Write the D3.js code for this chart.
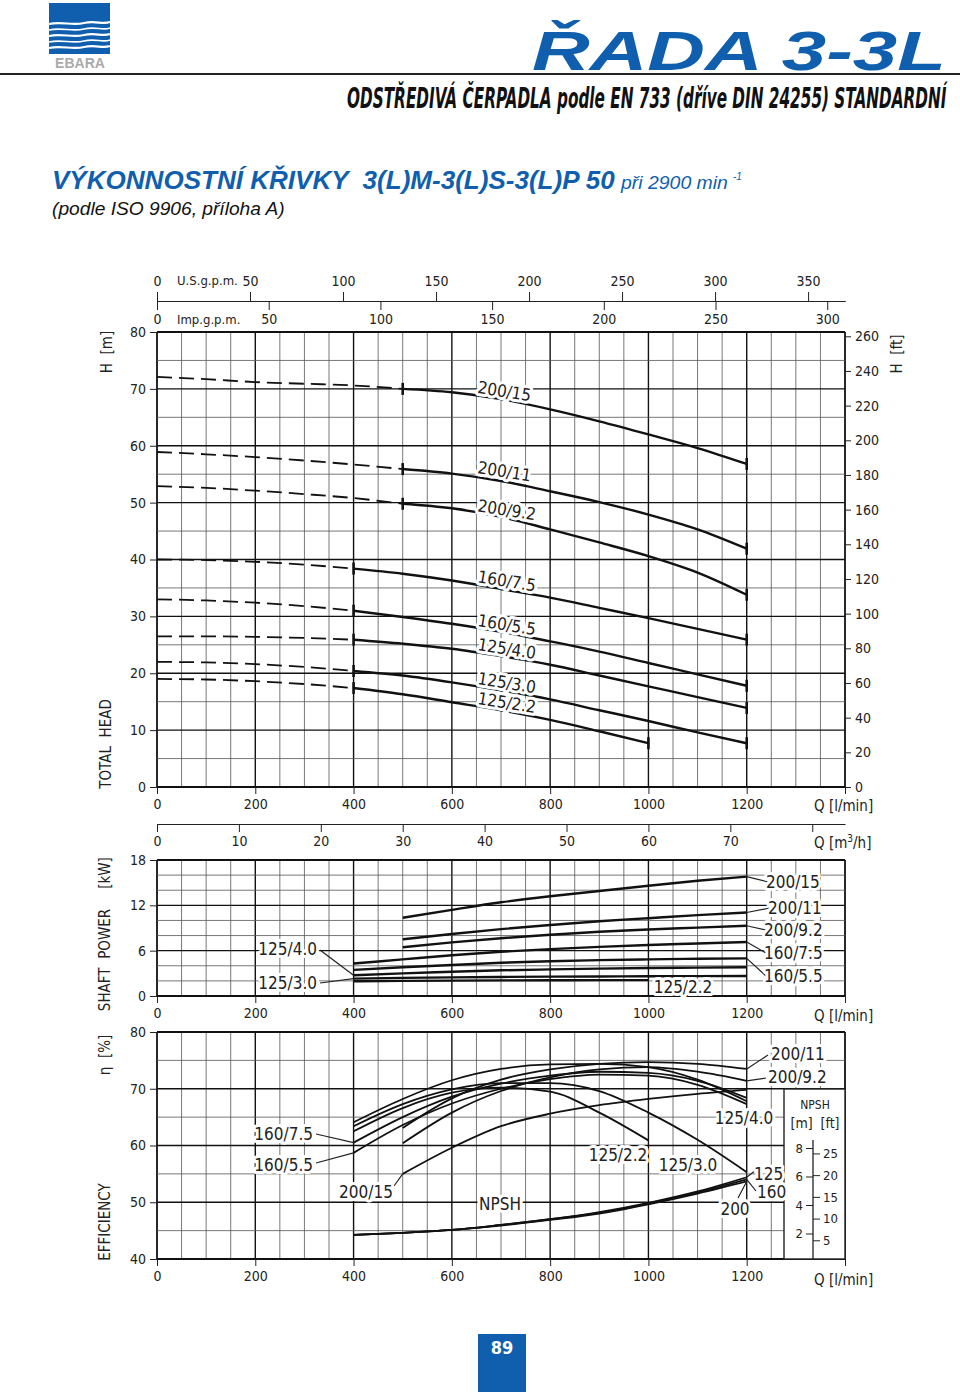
<!DOCTYPE html>
<html><head><meta charset="utf-8">
<script src="https://cdn.jsdelivr.net/npm/d3@7"></script>
<style>
body{margin:0;background:#fff}
svg text{font-family:"Liberation Sans Narrow","DejaVu Sans Condensed","DejaVu Sans",sans-serif;font-stretch:condensed;fill:#222}
.ax text{font-size:14px}
.ax line,.ax path{stroke:#222}
.lab{font-size:17px;paint-order:stroke;stroke:#fff;stroke-width:6px;stroke-linejoin:round}
.ttl{font-size:15px}
</style></head><body><script>
// --- data (read from the catalogue sheet) ---
var models = ["200/15","200/11","200/9.2","160/7.5","160/5.5","125/4.0","125/3.0","125/2.2"];
var solidFrom = [500,500,500,400,400,400,400,400];

// total head H [m] vs Q [l/min]
var qHead = [0,100,200,300,400,500,600,700,800,900,1000,1100,1200];
var head_200_15  = [72.1,71.7,71.2,70.9,70.6,70.0,69.4,68.2,66.4,64.3,62.0,59.6,56.8];
var head_200_11  = [58.9,58.5,58.0,57.4,56.7,55.9,55.1,53.8,52.0,50.1,47.9,45.3,41.9];
var head_200_9_2 = [52.9,52.6,52.1,51.5,50.8,49.8,49.0,47.5,45.3,43.0,40.6,37.7,33.8];
var head_160_7_5 = [40.0,39.9,39.6,39.1,38.4,37.5,36.3,34.8,33.3,31.5,29.7,27.8,25.9];
var head_160_5_5 = [33.0,32.8,32.4,31.8,31.0,29.9,28.7,27.3,25.6,23.8,21.8,19.8,17.8];
var head_125_4_0 = [26.5,26.5,26.4,26.2,25.9,25.2,24.3,23.0,21.5,19.6,17.7,15.8,13.9];
var head_125_3_0 = [22.0,21.9,21.6,21.1,20.4,19.6,18.4,17.0,15.4,13.5,11.6,9.6,7.7];
var head_125_2_2 = [19.0,18.9,18.6,18.1,17.4,16.3,14.9,13.5,11.8,9.8,7.7];
var heads = [head_200_15,head_200_11,head_200_9_2,head_160_7_5,head_160_5_5,head_125_4_0,head_125_3_0,head_125_2_2];

// shaft power [kW]
var qCurve = [400,500,600,700,800,900,1000,1100,1200];
var pow_200_15  = [null,10.35,11.4,12.4,13.2,13.9,14.6,15.25,15.8];
var pow_200_11  = [null,7.5,8.2,8.85,9.4,9.9,10.3,10.7,11.05];
var pow_200_9_2 = [null,6.45,7.1,7.65,8.1,8.5,8.8,9.05,9.3];
var pow_160_7_5 = [4.3,4.85,5.4,5.85,6.2,6.5,6.75,6.95,7.15];
var pow_160_5_5 = [3.45,3.8,4.1,4.4,4.6,4.75,4.85,4.93,4.98];
var pow_125_4_0 = [2.75,3.0,3.2,3.4,3.52,3.62,3.7,3.76,3.8];
var pow_125_3_0 = [2.3,2.4,2.47,2.52,2.56,2.59,2.61,2.63,2.65];
var pow_125_2_2 = [1.95,2.0,2.04,2.07,2.09,2.1,2.1,null,null];
var powers = [pow_200_15,pow_200_11,pow_200_9_2,pow_160_7_5,pow_160_5_5,pow_125_4_0,pow_125_3_0,pow_125_2_2];

// efficiency [%]
var eff_200_15  = [null,55.0,59.6,63.4,65.6,67.1,68.2,69.1,69.8];
var eff_200_11  = [null,63.1,68.3,71.6,73.4,74.4,74.7,74.4,73.5];
var eff_200_9_2 = [null,60.4,65.8,69.6,72.0,73.4,73.8,73.0,71.4];
var eff_160_7_5 = [60.5,65.0,68.6,70.9,72.3,73.0,72.8,71.4,68.4];
var eff_160_5_5 = [58.7,63.6,67.4,70.0,71.7,72.5,72.3,70.7,67.3];
var eff_125_4_0 = [64.1,68.2,71.5,73.5,74.3,74.4,73.8,71.6,67.8];
var eff_125_3_0 = [63.4,67.3,69.9,71.0,71.0,69.6,65.8,61.0,55.3];
var eff_125_2_2 = [62.5,66.6,69.3,70.2,69.5,65.8,60.9,null,null];
var effs = [eff_200_15,eff_200_11,eff_200_9_2,eff_160_7_5,eff_160_5_5,eff_125_4_0,eff_125_3_0,eff_125_2_2];

// NPSH [m] for impeller sizes 125 / 160 / 200
var npshSizes = ["125","160","200"];
var npsh_125 = [1.9,2.05,2.25,2.6,3.0,3.5,4.15,4.95,5.95];
var npsh_160 = [1.9,2.05,2.25,2.6,3.0,3.45,4.1,4.88,5.8];
var npsh_200 = [1.9,2.05,2.25,2.55,2.95,3.4,4.05,4.8,5.65];

// --- page ---
var blue = "#0f5fae";
var svg = d3.select("body").append("svg").attr("width",960).attr("height",1392);

// squeeze a text horizontally so it spans exactly w pixels (anchor start)
function fit(t, px, py, w){
  var len = t.node().getComputedTextLength();
  t.attr("transform","translate("+px+","+py+") scale("+(w/len)+",1)");
  return t;
}

// logo
var logo = svg.append("g");
logo.append("rect").attr("x",49).attr("y",3).attr("width",61).attr("height",51).attr("fill",blue);
[24,30,36,42,48].forEach(function(yy,i){
  logo.append("path")
    .attr("d","M49,"+yy+" C62,"+(yy-3)+" 72,"+(yy+2)+" 84,"+(yy-1)+" S102,"+(yy+1)+" 110,"+(yy-2))
    .attr("fill","none").attr("stroke","#fff").attr("stroke-width",i%2?1.6:2.2);
});
logo.append("text").attr("x",80).attr("y",68).attr("text-anchor","middle")
  .style("font-family","Liberation Sans, sans-serif").style("font-weight","bold")
  .style("font-size","14px").style("fill","#aaa").text("EBARA");

fit(svg.append("text")
  .style("font-family","Liberation Sans, sans-serif").style("font-stretch","normal")
  .style("font-weight","bold").style("font-style","italic").style("font-size","56px")
  .style("fill",blue).text("ŘADA 3-3L"), 532, 70, 414);
svg.append("line").attr("x1",0).attr("x2",960).attr("y1",74).attr("y2",74)
  .attr("stroke","#222").attr("stroke-width",2);
fit(svg.append("text")
  .style("font-weight","bold").style("font-style","italic").style("font-size","29px")
  .style("fill","#111").text("ODSTŘEDIVÁ ČERPADLA podle EN 733 (dříve DIN 24255) STANDARDNÍ"), 347, 108, 600);

fit(svg.append("text")
  .style("font-family","Liberation Sans, sans-serif").style("font-stretch","normal")
  .style("font-weight","bold").style("font-style","italic").style("font-size","26px")
  .style("fill",blue).style("white-space","pre").text("VÝKONNOSTNÍ KŘIVKY  3(L)M-3(L)S-3(L)P 50"), 52, 189, 563);
fit(svg.append("text")
  .style("font-family","Liberation Sans, sans-serif").style("font-stretch","normal")
  .style("font-style","italic").style("font-size","18px").style("fill",blue).text("při 2900 min"), 621, 189, 107);
svg.append("text").attr("x",733).attr("y",180)
  .style("font-family","Liberation Sans, sans-serif").style("font-style","italic")
  .style("font-size","10px").style("fill",blue).text("-1");
fit(svg.append("text")
  .style("font-family","Liberation Sans, sans-serif").style("font-stretch","normal")
  .style("font-style","italic").style("font-size","19px").style("fill","#111").text("(podle ISO 9906, příloha A)"), 52, 215, 233);

// page number
svg.append("rect").attr("x",478).attr("y",1334).attr("width",48).attr("height",58).attr("fill",blue);
svg.append("text").attr("x",502).attr("y",1354).attr("text-anchor","middle")
  .style("font-weight","bold").style("font-size","18px").style("fill","#fff").text("89");

// --- scales ---
var x = d3.scaleLinear().domain([0,1400]).range([157,845]);
var yH = d3.scaleLinear().domain([0,80]).range([787,332]);
var yFt = d3.scaleLinear().domain([0,80/0.3048]).range([787,332]);
var yP = d3.scaleLinear().domain([0,18]).range([996,860]);
var yE = d3.scaleLinear().domain([40,80]).range([1259,1032]);
var yN = d3.scaleLinear().domain([0,8]).range([1262,1148]);
var xUS = d3.scaleLinear().domain([0,1400/3.78541]).range([157,845]);
var xImp = d3.scaleLinear().domain([0,1400/4.54609]).range([157,845]);
var xM3 = d3.scaleLinear().domain([0,84]).range([157,845]);

function grid(y, step, major){
  var g = svg.append("g");
  var d = y.domain();
  g.selectAll(".v").data(d3.range(0,1401,50)).enter().append("line")
    .attr("x1",x).attr("x2",x).attr("y1",y(d[0])).attr("y2",y(d[1]))
    .attr("stroke",function(q){return q%200===0?"#111":"#555";})
    .attr("stroke-width",function(q){return q===0||q===1400?1.8:(q%200===0?1.4:0.8);});
  g.selectAll(".h").data(d3.range(d[0],d[1]+0.001,step)).enter().append("line")
    .attr("x1",x(0)).attr("x2",x(1400)).attr("y1",y).attr("y2",y)
    .attr("stroke",function(v){return Math.abs(v%major)<1e-6?"#111":"#555";})
    .attr("stroke-width",function(v){return v===d[0]||v===d[1]?1.8:(Math.abs(v%major)<1e-6?1.3:0.8);});
}
function ax(gen, tx, ty){
  var g = svg.append("g").attr("class","ax").attr("transform","translate("+tx+","+ty+")").call(gen);
  return g;
}
function qAxis(y0, yq){
  ax(d3.axisBottom(x).tickValues(d3.range(0,1401,200)).tickSize(7).tickSizeOuter(0).tickPadding(5)
    .tickFormat(function(d){return d===1400?"":d;}),0,y0).select(".domain").remove();
  svg.append("text").attr("class","ttl").attr("x",814).attr("y",yq).text("Q [l/min]");
}
function vtitle(t, cx, cy){
  svg.append("text").attr("class","ttl").attr("text-anchor","middle")
    .attr("transform","translate("+cx+","+cy+") rotate(-90)").style("white-space","pre").text(t);
}
var line = function(xs, y){
  return d3.line().defined(function(d){return d[1]!=null;})
    .x(function(d){return x(d[0]);}).y(function(d){return y(d[1]);})
    .curve(d3.curveMonotoneX);
};
function pairs(qs, vs){ return vs.map(function(v,i){return [qs[i],v];}); }
function label(t, px, py, anchor, rot){
  svg.append("text").attr("class","lab").attr("text-anchor",anchor||"start")
    .attr("transform","translate("+px+","+py+")"+(rot?" rotate("+rot+")":"")).text(t);
}
function leader(x1,y1,x2,y2){
  svg.append("line").attr("x1",x1).attr("y1",y1).attr("x2",x2).attr("y2",y2)
    .attr("stroke","#222").attr("stroke-width",1.2);
}

// --- top flow-rate scales ---
ax(d3.axisTop(xUS).tickValues(d3.range(0,351,50)).tickSize(9).tickSizeOuter(0).tickPadding(6),0,301);
ax(d3.axisBottom(xImp).tickValues(d3.range(0,301,50)).tickSize(9).tickSizeOuter(0).tickPadding(4),0,301);
svg.append("text").attr("x",177).attr("y",285).style("font-size","13px").text("U.S.g.p.m.");
svg.append("text").attr("x",177).attr("y",324).style("font-size","13px").text("Imp.g.p.m.");

// --- head chart ---
grid(yH, 5, 10);
ax(d3.axisLeft(yH).tickValues(d3.range(0,81,10)).tickSize(7).tickPadding(4),157,0).select(".domain").remove();
ax(d3.axisRight(yFt).tickValues(d3.range(0,261,20)).tickSize(6).tickPadding(4),845,0).select(".domain").remove();
qAxis(787, 811);
vtitle("H  [m]",112,352);
vtitle("TOTAL  HEAD",111,744);
vtitle("H  [ft]",902,354);

var headLbl = [[651,69.3],[651,55.2],[651,48.5],[651,36.0],[651,28.3],[651,24.1],[651,18.1],[651,14.6]];
models.forEach(function(m,i){
  var pts = pairs(qHead, heads[i]);
  var s = solidFrom[i];
  svg.append("path").datum(pts.filter(function(p){return p[0]<=s;}))
    .attr("d", line(null,yH)).attr("fill","none").attr("stroke","#111")
    .attr("stroke-width",1.8).attr("stroke-dasharray","15,7");
  var sol = pts.filter(function(p){return p[0]>=s;});
  svg.append("path").datum(sol).attr("d", line(null,yH)).attr("fill","none")
    .attr("stroke","#111").attr("stroke-width",2.4);
  [sol[0], sol[sol.length-1]].forEach(function(p){
    svg.append("line").attr("x1",x(p[0])).attr("x2",x(p[0]))
      .attr("y1",yH(p[1])-6).attr("y2",yH(p[1])+6).attr("stroke","#111").attr("stroke-width",2.6);
  });
  label(m, x(headLbl[i][0]), yH(headLbl[i][1]), "start", 9);
});

// --- m3/h scale ---
ax(d3.axisBottom(xM3).tickValues(d3.range(0,81,10)).tickSize(8).tickSizeOuter(0).tickPadding(4)
  .tickFormat(function(d){return d===80?"":d;}),0,824);
var m3 = svg.append("text").attr("class","ttl").attr("x",814).attr("y",848).text("Q [m");
m3.append("tspan").attr("dy",-6).style("font-size","10px").text("3");
m3.append("tspan").attr("dy",6).text("/h]");

// --- shaft power chart ---
grid(yP, 2, 6);
ax(d3.axisLeft(yP).tickValues([0,6,12,18]).tickSize(7).tickPadding(4),157,0).select(".domain").remove();
qAxis(996, 1021);
vtitle("[kW]",110,873);
vtitle("SHAFT  POWER",110,960);
powers.forEach(function(p){
  svg.append("path").datum(pairs(qCurve,p)).attr("d", line(null,yP))
    .attr("fill","none").attr("stroke","#111").attr("stroke-width",2.4);
});
var powLbl = [[766,882],[768,908],[764,930],[764,953],[764,976]];
powLbl.forEach(function(l,i){
  leader(x(1200), yP(powers[i][8]), l[0]+2, l[1]);
  label(models[i], l[0], l[1]+6);
});
label(models[7], 683, 993, "middle");
leader(320, 950, x(400), yP(pow_125_4_0[0]));
leader(320, 983, x(400), yP(pow_125_3_0[0]));
label(models[5], 317, 955, "end");
label(models[6], 317, 989, "end");

// --- efficiency chart ---
grid(yE, 5, 10);
ax(d3.axisLeft(yE).tickValues(d3.range(40,81,10)).tickSize(7).tickPadding(4),157,0).select(".domain").remove();
qAxis(1259, 1285);
vtitle("η  [%]",110,1055);
vtitle("EFFICIENCY",110,1222);
effs.forEach(function(e){
  svg.append("path").datum(pairs(qCurve,e)).attr("d", line(null,yE))
    .attr("fill","none").attr("stroke","#111").attr("stroke-width",1.8);
});
[npsh_125,npsh_160,npsh_200].forEach(function(n){
  svg.append("path").datum(pairs(qCurve,n)).attr("d", line(null,yN))
    .attr("fill","none").attr("stroke","#111").attr("stroke-width",1.8);
});

// NPSH inset scale
svg.append("rect").attr("x",784).attr("y",1089).attr("width",61).attr("height",170)
  .attr("fill","#fff").attr("stroke","#222").attr("stroke-width",1.4);
svg.append("text").attr("x",815).attr("y",1109).attr("text-anchor","middle").style("font-size","12px").text("NPSH");
svg.append("text").attr("x",815).attr("y",1128).attr("text-anchor","middle").style("font-size","14px").style("white-space","pre").text("[m]  [ft]");
svg.append("line").attr("x1",813).attr("x2",813).attr("y1",1140).attr("y2",1259).attr("stroke","#222").attr("stroke-width",1.3);
var nl = ax(d3.axisLeft(yN).tickValues([2,4,6,8]).tickSize(7).tickPadding(3),813,0);
nl.select(".domain").remove();
var yNft = d3.scaleLinear().domain([0,8/0.3048]).range(yN.range());
var nr = ax(d3.axisRight(yNft).tickValues([5,10,15,20,25]).tickSize(7).tickPadding(3),813,0);
nr.select(".domain").remove();
nl.selectAll("text").style("font-size","13px");
nr.selectAll("text").style("font-size","13px");

// efficiency labels
leader(x(1200), yE(eff_200_11[8]), 768, 1055);
label(models[1], 771, 1060);
leader(x(1200), yE(eff_200_9_2[8]), 766, 1078);
label(models[2], 768, 1083);
label(models[5], 744, 1124, "middle");
leader(316, 1134, x(400), yE(eff_160_7_5[0]));
leader(316, 1163, x(400), yE(eff_160_5_5[0]));
label(models[3], 313, 1140, "end");
label(models[4], 313, 1171, "end");
leader(394, 1186, x(500), yE(eff_200_15[1]));
label(models[0], 366, 1198, "middle");
label("NPSH", 500, 1210, "middle");
label(models[7], 618, 1161, "middle");
label(models[6], 688, 1171, "middle");
leader(x(1200), yN(npsh_125[8]), 756, 1170);
leader(x(1200), yN(npsh_160[8]), 756, 1191);
leader(x(1200), yN(npsh_200[8]), 738, 1198);
label(npshSizes[0], 754, 1180);
label(npshSizes[1], 757, 1198);
label(npshSizes[2], 735, 1215, "middle");
</script></body></html>
